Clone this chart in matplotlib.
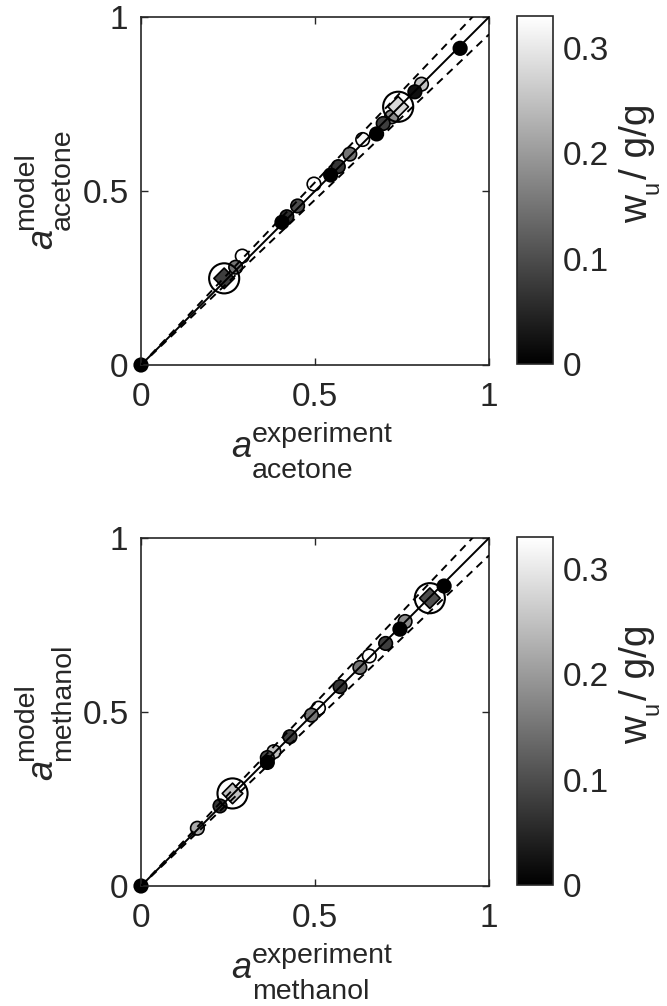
import numpy as np
import matplotlib
matplotlib.use("Agg")
import matplotlib.pyplot as plt
from matplotlib import cm, colors

plt.rcParams['font.family'] = ['Liberation Sans', 'DejaVu Sans']

# ---- data: acetone ----
ace_x = [0.0, 0.917, 0.806, 0.787, 0.720, 0.696, 0.677, 0.637, 0.600, 0.567, 0.545,
         0.497, 0.450, 0.419, 0.405, 0.291, 0.272]
ace_y = [0.0, 0.910, 0.807, 0.785, 0.713, 0.694, 0.664, 0.648, 0.606, 0.570, 0.546,
         0.520, 0.457, 0.426, 0.410, 0.313, 0.281]
ace_w = [0.0, 0.0, 0.25, 0.02, 0.18, 0.08, 0.0, 0.32, 0.15, 0.07, 0.0,
         0.33, 0.10, 0.06, 0.0, 0.33, 0.15]
ace_dx = [0.739, 0.239]
ace_dy = [0.742, 0.249]
ace_dw = [0.28, 0.08]

# ---- data: methanol ----
met_x = [0.0, 0.871, 0.759, 0.744, 0.703, 0.656, 0.629, 0.572, 0.510, 0.490, 0.428,
         0.382, 0.363, 0.363, 0.227, 0.162]
met_y = [0.0, 0.862, 0.760, 0.738, 0.697, 0.661, 0.628, 0.573, 0.511, 0.491, 0.429,
         0.386, 0.369, 0.355, 0.230, 0.166]
met_w = [0.0, 0.0, 0.18, 0.0, 0.08, 0.33, 0.15, 0.07, 0.33, 0.15, 0.08,
         0.25, 0.10, 0.0, 0.07, 0.22]
met_dx = [0.830, 0.263]
met_dy = [0.827, 0.266]
met_dw = [0.10, 0.25]

wmax = 0.33
ticks = [0, 0.5, 1]
tick_labels = ['0', '0.5', '1']
cb_ticks = [0, 0.1, 0.2, 0.3]
cb_labels = ['0', '0.1', '0.2', '0.3']

W, H = 667, 1006
fig = plt.figure(figsize=(W / 100, H / 100), dpi=100)
dark = '#262626'
norm = colors.Normalize(0, wmax)
cmap = plt.get_cmap('gray')


def ptext(x, y, s, size, rot=0, style='normal'):
    fig.text(x / W, 1 - y / H, s, fontsize=size, rotation=rot,
             rotation_mode='anchor', ha='left', va='baseline',
             style=style, color=dark)


def rect(l, t, r, b):
    return [l / W, 1 - b / H, (r - l) / W, (b - t) / H]


def panel(top, x, y, w, dx, dy, dw, name, ylab_start):
    ax = fig.add_axes(rect(141, top, 489, top + 348))
    ax.scatter(x, y, c=w, cmap=cmap, norm=norm, s=95, edgecolors='black',
               linewidths=1.2, zorder=2, clip_on=False)
    ax.scatter(dx, dy, c=dw, cmap=cmap, norm=norm, s=110, marker='D',
               edgecolors='black', linewidths=1.2, zorder=2)
    ax.scatter(dx, dy, s=470, facecolors='none', edgecolors='black',
               linewidths=1.5, zorder=3)
    line = np.array([0, 1.0])
    ax.plot(line, line, color='black', lw=1.4, zorder=4)
    ax.plot(line, line * 1.05, color='black', lw=1.4, dashes=(4, 3), zorder=4)
    ax.plot(line, line * 0.95, color='black', lw=1.4, dashes=(4, 3), zorder=4)
    ax.set_xlim(0, 1)
    ax.set_ylim(0, 1)
    ax.set_xticks(ticks)
    ax.set_yticks(ticks)
    ax.set_xticklabels(tick_labels)
    ax.set_yticklabels(tick_labels)
    ax.tick_params(direction='in', length=5, width=1, colors=dark,
                   labelsize=24, top=True, right=True)
    ax.tick_params(axis='x', pad=12)
    ax.tick_params(axis='y', pad=9)
    for s in ax.spines.values():
        s.set_color(dark)
        s.set_linewidth(1.2)

    # x label: a^{experiment}_{name}
    ptext(231, top + 440, 'a', 26, style='italic')
    ptext(252, top + 425, 'experiment', 20.5)
    ptext(252, top + 461, name, 20.5)
    # y label: a^{model}_{name} (rotated)
    ptext(52, ylab_start, 'a', 26, rot=90, style='italic')
    ptext(33.5, ylab_start - 19, 'model', 20.5, rot=90)
    ptext(70, ylab_start - 19, name, 20.5, rot=90)

    cax = fig.add_axes(rect(517, top - 1, 553, top + 347))
    cb = fig.colorbar(cm.ScalarMappable(norm=norm, cmap=cmap), cax=cax)
    cb.set_ticks(cb_ticks)
    cb.set_ticklabels(cb_labels)
    cax.tick_params(length=0, labelsize=24, colors=dark, pad=7)
    cb.outline.set_edgecolor(dark)
    cb.outline.set_linewidth(1.2)
    # colorbar label: w_u / g/g (rotated)
    ptext(647, top + 206, 'w', 28, rot=90)
    ptext(658, top + 177, 'u', 17, rot=90)
    ptext(647, top + 162, '/ g/g', 28, rot=90)


panel(17, ace_x, ace_y, ace_w, ace_dx, ace_dy, ace_dw, 'acetone', 249)
panel(538, met_x, met_y, met_w, met_dx, met_dy, met_dw, 'methanol', 780)

fig.savefig('out.png', dpi=100)
